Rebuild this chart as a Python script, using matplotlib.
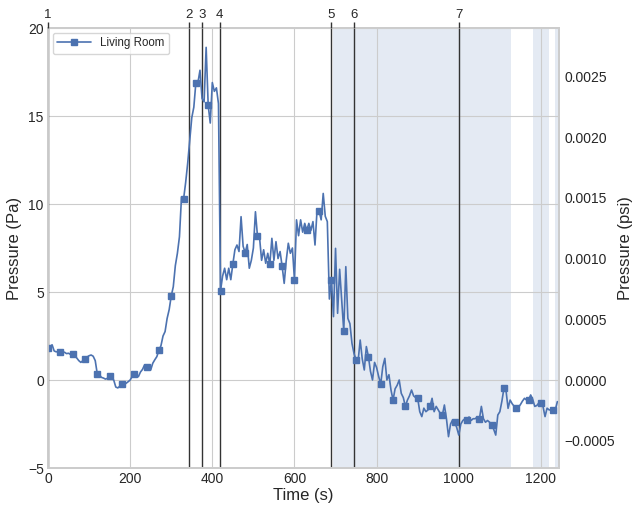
import numpy as np
import matplotlib
matplotlib.use('Agg')
import matplotlib.pyplot as plt
import seaborn as sns
from matplotlib.ticker import FuncFormatter

sns.set_style('whitegrid')
plt.rcParams['font.family'] = ['Liberation Sans', 'DejaVu Sans']

# ---------------- data ----------------
time_s = np.arange(0, 1245, 5)
pressure_pa = [
    1.80, 1.90, 2.00, 1.65, 1.60, 1.62, 1.59, 1.55, 1.58, 1.50,   # 0-45
    1.52, 1.45, 1.48, 1.40, 1.25, 1.10, 1.00, 1.10, 1.19, 1.30,   # 50-95
    1.38, 1.42, 1.35, 1.10, 0.34, 0.30, 0.15, 0.11, 0.05, 0.10,   # 100-145
    0.24, 0.10, 0.00, -0.40, -0.45, -0.35, -0.24, -0.25, -0.19, -0.10,  # 150-195
    0.00, 0.20, 0.32, 0.25, 0.19, 0.45, 0.60, 0.85, 0.72, 0.65,   # 200-245
    0.57, 0.95, 1.15, 1.33, 1.69, 1.95, 2.50, 2.75, 3.50, 4.00,   # 250-295
    4.77, 5.30, 6.50, 7.20, 8.14, 10.40, 10.27, 11.20, 12.30, 13.60,  # 300-345
    14.90, 15.50, 16.90, 16.90, 17.60, 16.00, 15.80, 18.90, 15.60, 14.60,  # 350-395
    16.90, 16.40, 16.60, 15.70, 5.06, 5.90, 6.35, 5.70, 6.35, 5.70,  # 400-445
    6.59, 7.40, 7.67, 7.30, 9.28, 7.60, 7.23, 7.70, 6.35, 6.80,   # 450-495
    7.50, 9.56, 8.16, 8.10, 6.80, 7.40, 6.63, 7.20, 6.57, 8.05,   # 500-545
    6.80, 7.86, 6.90, 7.30, 6.46, 5.49, 6.80, 7.77, 7.20, 7.50,   # 550-595
    5.68, 9.10, 8.20, 9.10, 8.40, 8.90, 8.50, 8.90, 8.50, 9.00,   # 600-645
    7.67, 9.66, 9.60, 9.10, 10.60, 9.30, 9.00, 4.60, 5.68, 3.60,  # 650-695
    7.48, 3.79, 6.29, 4.50, 2.78, 6.44, 3.50, 3.20, 2.08, 1.50,   # 700-745
    1.14, 1.10, 2.27, 1.20, 0.57, 1.90, 1.33, 0.50, 0.00, 1.00,   # 750-795
    0.70, 0.20, -0.23, 0.76, 1.23, 0.00, 0.30, -0.57, -1.14, -0.50,  # 800-845
    -0.30, 0.00, -0.76, -1.00, -1.50, -1.14, -0.90, -0.57, -0.90, -1.00,  # 850-895
    -1.04, -1.80, -2.08, -1.60, -1.80, -1.70, -1.50, -1.04, -1.80, -1.50,  # 900-945
    -1.70, -1.90, -2.00, -1.42, -2.20, -3.22, -2.50, -2.27, -2.40, -2.70,  # 950-995
    -3.13, -2.50, -2.30, -2.20, -2.27, -2.10, -2.30, -2.20, -2.20, -2.10,  # 1000-1045
    -2.23, -1.50, -2.20, -2.40, -2.30, -2.40, -2.57, -2.80, -3.13, -1.99,  # 1050-1095
    -1.80, -1.20, -0.47, -0.60, -1.61, -1.14, -1.35, -1.50, -1.61, -1.55,  # 1100-1145
    -1.40, -1.20, -1.04, -1.14, -1.14, -0.85, -1.10, -1.50, -1.45, -1.30,  # 1150-1195
    -1.33, -1.50, -2.08, -1.60, -1.70, -1.70, -1.70, -1.70, -1.23,        # 1200-1240
]
series_label = 'Living Room'
event_times = [0, 343, 375, 418, 688, 745, 1001]
event_labels = ['1', '2', '3', '4', '5', '6', '7']
shaded_spans = [(694, 1126), (1181, 1220), (1234, 1246)]
x_ticks = [0, 200, 400, 600, 800, 1000, 1200]
y_ticks = [-5, 0, 5, 10, 15, 20]
psi_ticks = [-0.0005, 0.0, 0.0005, 0.0010, 0.0015, 0.0020, 0.0025]
PA_TO_PSI = 0.000145038

# ---------------- figure ----------------
W, H = 634, 505
fig = plt.figure(figsize=(W / 100, H / 100), dpi=100)
ax = fig.add_axes([48 / W, 1 - 468 / H, (559 - 48) / W, (468 - 28) / H])

blue = '#4c72b0'
for a, b in shaded_spans:
    ax.axvspan(a, b, color=blue, alpha=0.15, lw=0, zorder=0.5)

for t in event_times:
    ax.axvline(t, color='0.2', lw=1.0, zorder=2)

ax.plot(time_s, pressure_pa, color=blue, lw=1.2, marker='s', ms=5,
        markevery=6, label=series_label, zorder=3)

ax.set_xlim(0, 1244)
ax.set_ylim(-5, 20)
ax.set_xticks(x_ticks)
ax.set_yticks(y_ticks)
ax.set_xlabel('Time (s)', fontsize=12, labelpad=1)
ax.set_ylabel('Pressure (Pa)', fontsize=12, labelpad=4)
ax.tick_params(axis='both', labelsize=10, length=0, pad=3)
for s in ax.spines.values():
    s.set_color('0.8')
    s.set_linewidth(1.25)

leg = ax.legend(loc='upper left', fontsize=8.3, frameon=True, fancybox=True,
                borderaxespad=0.4, handlelength=2.9)
leg.get_frame().set_edgecolor('0.8')

# right axis in psi
ax2 = ax.twinx()
ax2.set_ylim(-5 * PA_TO_PSI, 20 * PA_TO_PSI)
ax2.set_yticks(psi_ticks)
ax2.yaxis.set_major_formatter(FuncFormatter(lambda v, p: ('%.4f' % v).replace('-', '\u2212')))
ax2.grid(False)
ax2.tick_params(axis='y', labelsize=10, length=0, pad=4)
ax2.set_ylabel('Pressure (psi)', fontsize=12, labelpad=2)
for s in ax2.spines.values():
    s.set_color('0.8')
    s.set_linewidth(1.25)

# top axis with event numbers
ax3 = ax.twiny()
ax3.set_xlim(ax.get_xlim())
ax3.set_xticks(event_times)
ax3.set_xticklabels(event_labels)
ax3.grid(False)
ax3.tick_params(axis='x', top=True, direction='out', length=4, width=1,
                color='0.2', labelsize=9.5, pad=1)
for s in ax3.spines.values():
    s.set_visible(False)

fig.savefig('out.png', dpi=100)
